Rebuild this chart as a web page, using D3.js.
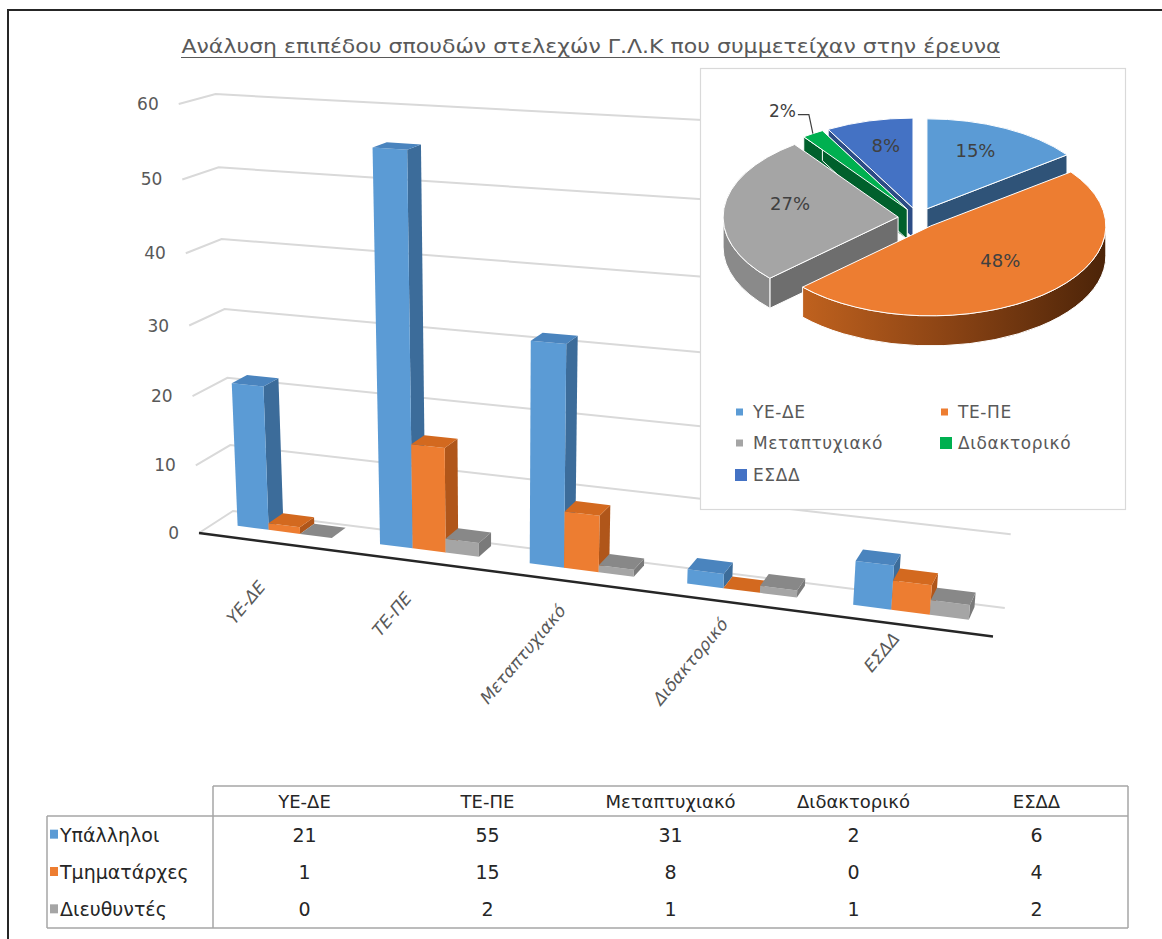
<!DOCTYPE html>
<html>
<head>
<meta charset="utf-8">
<script src="https://cdn.jsdelivr.net/npm/d3@7"></script>
<style>
  body { margin: 0; background: #fff; }
  svg { display: block; }
  text { font-family: "DejaVu Sans", "Noto Sans", sans-serif; }
</style>
</head>
<body>
<svg id="chart" width="1162" height="939"></svg>
<script>
// ---- data ----
const categories = ["ΥΕ-ΔΕ", "ΤΕ-ΠΕ", "Μεταπτυχιακό", "Διδακτορικό", "ΕΣΔΔ"];
const seriesNames = ["Υπάλληλοι", "Τμηματάρχες", "Διευθυντές"];
const ypalliloi   = [21, 55, 31, 2, 6];
const tmimatarxes = [1, 15, 8, 0, 4];
const dieythyntes = [0, 2, 1, 1, 2];
const valueTicks  = [0, 10, 20, 30, 40, 50, 60];
const chartTitle  = "Ανάλυση επιπέδου  σπουδών στελεχών Γ.Λ.Κ που συμμετείχαν στην έρευνα";

const seriesValues = [ypalliloi, tmimatarxes, dieythyntes];
const seriesColors = [
  { front: "#5B9BD5", top: "#4A84BE", side: "#3C6C9A" },
  { front: "#ED7D31", top: "#D3691F", side: "#B0561A" },
  { front: "#A5A5A5", top: "#888888", side: "#7A7A7A" }
];
const pieTop  = ["#5B9BD5", "#ED7D31", "#A5A5A5", "#00B050", "#4472C4"];
const pieSide = ["#2F5378", "url(#rimOrange)", "#8A8A8A", "#00602C", "#2C4C85"];
const pieFace = ["#2F5378", "#8A4314", "#6E6E6E", "#00602C", "#2C4C85"];

const svg = d3.select("#chart");
const defs = svg.append("defs");

// ---- outer frame ----
svg.append("path").attr("d", "M8,939 V10 H1162")
  .attr("fill", "none").attr("stroke", "#262626").attr("stroke-width", 2);

// ---- title ----
svg.append("text").attr("x", 591).attr("y", 53).attr("text-anchor", "middle")
  .attr("font-size", 19).attr("fill", "#595959")
  .attr("textLength", 819).attr("lengthAdjust", "spacingAndGlyphs")
  .text(chartTitle);
svg.append("line").attr("x1", 181).attr("x2", 1000).attr("y1", 57.5).attr("y2", 57.5)
  .attr("stroke", "#595959").attr("stroke-width", 1.2);

// ---- perspective camera for the 3-D column chart ----
const deg = Math.PI / 180;
const cam = { yaw: 20.56 * deg, pitch: 18.45 * deg, focal: 2134, cx: 500, cy: 502 };
const floorCorner = [199, 533];            // screen point of the front-left floor corner
const sY = Math.sin(cam.yaw), cY = Math.cos(cam.yaw);
const sP = Math.sin(cam.pitch), cP = Math.cos(cam.pitch);
const ex = [cY, -sY * sP, -sY * cP];
const ey = [0, cP, -sP];
const ez = [sY, cY * sP, cY * cP];
const origin = [(floorCorner[0] - cam.cx) / cam.focal, (cam.cy - floorCorner[1]) / cam.focal, 1];

// world scales: categories along X, values along Y, depth along Z
const xWorld = d3.scaleLinear().domain([0, categories.length]).range([0, 0.36719]);
const yWorld = d3.scaleLinear().domain([0, 60]).range([0, 0.1995]);
const zWorld = d3.scaleLinear().domain([0, 1]).range([0, 0.03446]);

function project(cx, v, dz) {
  const X = xWorld(cx), Y = yWorld(v), Z = zWorld(dz);
  const p = [0, 1, 2].map(i => origin[i] + X * ex[i] + Y * ey[i] + Z * ez[i]);
  return [cam.cx + cam.focal * p[0] / p[2], cam.cy - cam.focal * p[1] / p[2]];
}
const poly = pts => "M" + pts.map(p => p[0].toFixed(2) + "," + p[1].toFixed(2)).join("L") + "Z";

const catBand = d3.scaleBand().domain(categories).range([0, categories.length])
  .paddingInner(1 / 3).paddingOuter(1 / 6);
const serBand = d3.scaleBand().domain(seriesNames).range([0, catBand.bandwidth()]);
const barDepth = [0.45, 0.9];
const nCat = categories.length;

// ---- walls: gridlines on the side wall and back wall ----
const grid = svg.append("g");
valueTicks.forEach(v => {
  const pts = [project(0, v, 0), project(0, v, 1), project(nCat, v, 1)];
  grid.append("path").attr("d", "M" + pts.map(p => p.join(",")).join("L"))
    .attr("fill", "none").attr("stroke", "#D9D9D9").attr("stroke-width", 2);
  const lp = project(0, v, 0);
  grid.append("text").attr("x", lp[0] - 20).attr("y", lp[1] + 6)
    .attr("text-anchor", "end").attr("font-size", 17).attr("fill", "#595959")
    .text(v);
});

// ---- category axis line ----
{
  const a = project(0, 0, 0), b = project(nCat, 0, 0);
  svg.append("line").attr("x1", a[0]).attr("y1", a[1]).attr("x2", b[0]).attr("y2", b[1])
    .attr("stroke", "#262626").attr("stroke-width", 2.5);
}

// ---- bars (drawn left to right, nearer faces last) ----
const bars = svg.append("g");
categories.forEach((cat, ci) => {
  seriesNames.forEach((s, si) => {
    const v = seriesValues[si][ci];
    const x0 = catBand(cat) + serBand(s), x1 = x0 + serBand.bandwidth();
    const [z0, z1] = barDepth;
    const col = seriesColors[si];
    const g = bars.append("g");
    g.append("path").attr("fill", col.side)
      .attr("d", poly([project(x1, 0, z0), project(x1, 0, z1), project(x1, v, z1), project(x1, v, z0)]));
    g.append("path").attr("fill", col.front)
      .attr("d", poly([project(x0, 0, z0), project(x1, 0, z0), project(x1, v, z0), project(x0, v, z0)]));
    g.append("path").attr("fill", col.top)
      .attr("d", poly([project(x0, v, z0), project(x1, v, z0), project(x1, v, z1), project(x0, v, z1)]));
  });
});

// ---- category labels ----
const labelDrop = d3.scaleLinear().domain([0, nCat - 1]).range([46, 15]);
categories.forEach((cat, ci) => {
  const p = project(catBand(cat) + catBand.bandwidth() / 2, 0, 0);
  svg.append("text")
    .attr("transform", `translate(${p[0] - 4},${p[1] + labelDrop(ci)}) rotate(-50) skewX(-12)`)
    .attr("text-anchor", "end").attr("font-size", 17).attr("fill", "#595959")
    .text(cat);
});

// ---- pie inset ----
svg.append("rect").attr("x", 700.5).attr("y", 68.5).attr("width", 425).attr("height", 441)
  .attr("fill", "#fff").attr("stroke", "#D9D9D9").attr("stroke-width", 1.2);

const rim = defs.append("linearGradient").attr("id", "rimOrange")
  .attr("gradientUnits", "userSpaceOnUse").attr("x1", 790).attr("x2", 1110).attr("y1", 0).attr("y2", 0);
rim.append("stop").attr("offset", 0).attr("stop-color", "#C4641F");
rim.append("stop").attr("offset", 0.5).attr("stop-color", "#8A4314");
rim.append("stop").attr("offset", 1).attr("stop-color", "#4A2308");

const totals = categories.map((c, i) => d3.sum(seriesValues, s => s[i]));
const pieCenter = [918, 218], pieR = 175, pieTilt = 0.514, pieDepth = 30, explode = 20;
const arcs = d3.pie().sort(null).value(d => d)(totals);
const fmtPct = d3.format(".0%");
const grand = d3.sum(totals);
const thinSlice = 0.2;

const pt = (c, a, r) => [c[0] + r * Math.sin(a), c[1] - r * pieTilt * Math.cos(a)];
const down = p => [p[0], p[1] + pieDepth];
const pieG = svg.append("g");

const slices = arcs.map((d, i) => {
  const mid = (d.startAngle + d.endAngle) / 2;
  const apex = pt(pieCenter, mid, explode);
  return { d, i, mid, apex };
}).sort((a, b) => (-Math.cos(a.mid)) - (-Math.cos(b.mid)));

const ry = pieR * pieTilt;
slices.forEach(({ d, i, apex }) => {
  const a0 = d.startAngle, a1 = d.endAngle;
  const thin = (a1 - a0) < thinSlice;
  const g = pieG.append("g").attr("stroke", "#fff").attr("stroke-width", 1).attr("stroke-linejoin", "round");
  // radial cut faces that turn toward the viewer
  [[a0, Math.sin(a0) < 0], [a1, Math.sin(a1) > 0]].forEach(([a, vis]) => {
    if (!vis && !thin) return;
    const q = pt(apex, a, pieR);
    g.append("path").attr("fill", pieFace[i]).attr("d", poly([apex, q, down(q), down(apex)]));
  });
  // curved rim on the front half
  const s = Math.max(a0, Math.PI / 2), e = Math.min(a1, 3 * Math.PI / 2);
  if (e > s) {
    const ps = pt(apex, s, pieR), pe = pt(apex, e, pieR);
    const lg = (e - s) > Math.PI ? 1 : 0;
    g.append("path").attr("fill", pieSide[i])
      .attr("d", `M${ps}A${pieR},${ry} 0 ${lg} 1 ${pe}L${down(pe)}A${pieR},${ry} 0 ${lg} 0 ${down(ps)}Z`);
  }
  // top surface
  const p0 = pt(apex, a0, pieR), p1 = pt(apex, a1, pieR);
  const lg = (a1 - a0) > Math.PI ? 1 : 0;
  g.append("path").attr("fill", pieTop[i])
    .attr("d", `M${apex}L${p0}A${pieR},${ry} 0 ${lg} 1 ${p1}Z`);
});

// percentage labels
arcs.forEach((d, i) => {
  const mid = (d.startAngle + d.endAngle) / 2;
  const apex = pt(pieCenter, mid, explode);
  const label = fmtPct(d.value / grand);
  if (d.endAngle - d.startAngle < thinSlice) {
    const edge = pt(apex, mid, pieR);
    const knee = [edge[0] - 4, edge[1] - 19];
    pieG.append("path").attr("d", `M${edge}L${knee}L${knee[0] - 11},${knee[1]}`)
      .attr("fill", "none").attr("stroke", "#404040").attr("stroke-width", 1.2);
    pieG.append("text").attr("x", knee[0] - 13).attr("y", knee[1] + 2)
      .attr("text-anchor", "end").attr("font-size", 17).attr("fill", "#404040").text(label);
  } else {
    const c = pt(apex, mid, pieR * 0.62);
    pieG.append("text").attr("x", c[0]).attr("y", c[1] - 2)
      .attr("text-anchor", "middle").attr("font-size", 18).attr("fill", "#404040").text(label);
  }
});

// pie legend
const legendCols = [735, 940], legendRows = [412, 443, 475];
categories.forEach((cat, i) => {
  const x = legendCols[i % 2], y = legendRows[Math.floor(i / 2)];
  const sz = i >= 3 ? 12 : 7;
  svg.append("rect").attr("x", x + (i >= 3 ? 0 : 1)).attr("y", y - sz / 2).attr("width", sz).attr("height", sz)
    .attr("fill", pieTop[i]);
  svg.append("text").attr("x", x + 18).attr("y", y + 6).attr("font-size", 17)
    .attr("letter-spacing", 0.6).attr("fill", "#595959").text(cat);
});

// ---- data table ----
const table = svg.append("g");
const colBand = d3.scaleBand().domain(categories).range([213, 1128]);
const rowBand = d3.scaleBand().domain(seriesNames).range([816, 928]);
const tStroke = "#A6A6A6";
const tl = (x1, y1, x2, y2) => table.append("line").attr("x1", x1).attr("y1", y1).attr("x2", x2).attr("y2", y2)
  .attr("stroke", tStroke).attr("stroke-width", 1.5);
tl(213, 786, 1128, 786);
tl(47, 816, 1128, 816);
tl(47, 928, 1128, 928);
tl(47, 816, 47, 928);
tl(213, 786, 213, 928);
tl(1128, 786, 1128, 928);

categories.forEach(cat => {
  table.append("text").attr("x", colBand(cat) + colBand.bandwidth() / 2).attr("y", 808)
    .attr("text-anchor", "middle").attr("font-size", 18).attr("fill", "#262626").text(cat);
});
seriesNames.forEach((s, si) => {
  const yc = rowBand(s) + rowBand.bandwidth() / 2;
  table.append("rect").attr("x", 50).attr("y", yc - 5).attr("width", 8).attr("height", 9)
    .attr("fill", seriesColors[si].front);
  table.append("text").attr("x", 60).attr("y", yc + 7).attr("font-size", 19)
    .attr("fill", "#262626").text(s);
  categories.forEach((cat, ci) => {
    table.append("text").attr("x", colBand(cat) + colBand.bandwidth() / 2).attr("y", yc + 7)
      .attr("text-anchor", "middle").attr("font-size", 19).attr("fill", "#262626")
      .text(seriesValues[si][ci]);
  });
});
</script>
</body>
</html>
